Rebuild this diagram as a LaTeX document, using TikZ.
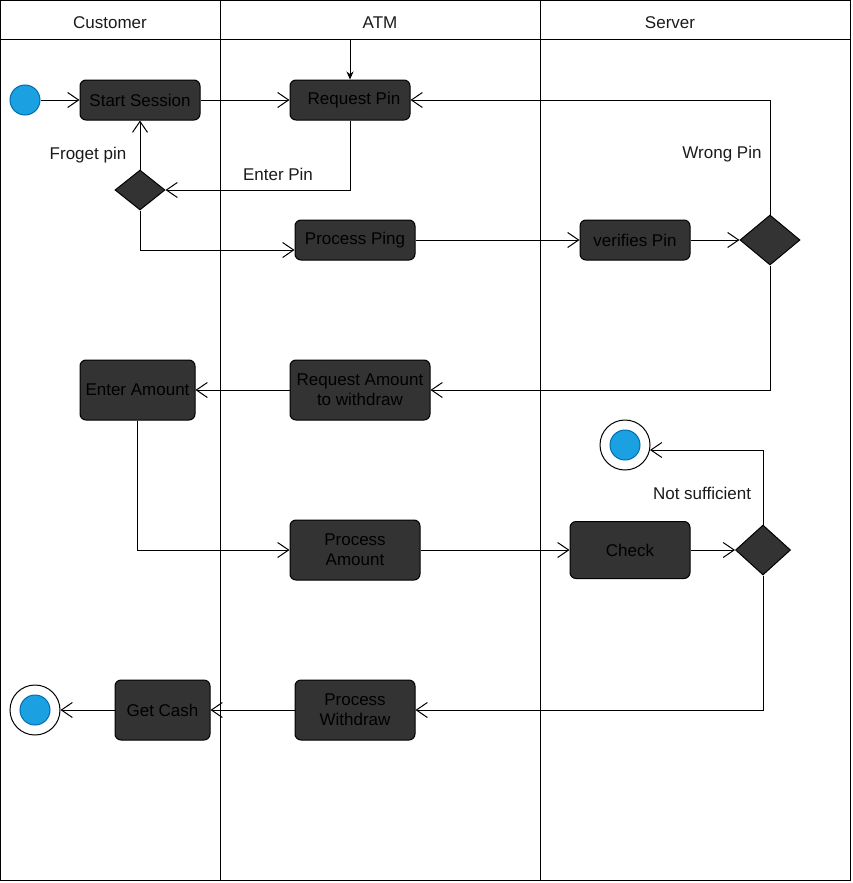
\documentclass[tikz,border=0pt]{standalone}
\usepackage{fontspec}
\setmainfont{Liberation Sans}
\usetikzlibrary{arrows.meta,shapes.geometric}
\definecolor{boxfill}{HTML}{333333}
\definecolor{lbltext}{HTML}{1A1A1A}
\definecolor{startblue}{HTML}{1BA1E2}
\definecolor{startedge}{HTML}{006EAF}
\begin{document}
\begin{tikzpicture}[x=1pt,y=-1pt,line width=1pt,
  every node/.style={font=\fontsize{17}{20}\selectfont},
  actbox/.style={draw=black,fill=boxfill,rounded corners=6pt,text=black,align=center,inner sep=0pt},
  decis/.style={draw=black,fill=boxfill,diamond,inner sep=0pt},
  lbl/.style={text=lbltext,inner sep=0pt},
  flow/.style={draw=black,-{Straight Barb[length=11pt,width=15pt,line width=1pt]}},
  solidarrow/.style={draw=black,-{Stealth[length=8pt,width=7pt]}}
]
\useasboundingbox (0,0) rectangle (852,883);
% swimlanes
\draw[black] (0.5,0.5) rectangle (850,880);
\draw[black] (0.5,40) -- (850,40);
\draw[black] (220,0.5) -- (220,880);
\draw[black] (540,0.5) -- (540,880);
\node[lbl] (hc) at (110,23) {Customer};
\node[lbl] (ha) at (380,23) {ATM};
\node[lbl] (hs) at (670,23) {Server};
\coordinate (atmtop) at (350,40);
% nodes
\node[circle,draw=startedge,fill=startblue,minimum size=30pt,inner sep=0pt] (init) at (25,100) {};
\node[actbox,minimum width=120pt,minimum height=40pt] (start) at (140,100) {Start Session};
\node[actbox,minimum width=120pt,minimum height=40pt] (reqpin) at (350,100) {\hspace*{8pt}Request Pin};
\node[decis,minimum width=50pt,minimum height=40pt] (d1) at (140,190) {};
\node[actbox,minimum width=120pt,minimum height=40pt] (ping) at (355,240) {Process Ping};
\node[actbox,minimum width=110pt,minimum height=40pt] (verify) at (635,240) {verifies Pin};
\node[decis,minimum width=60pt,minimum height=50pt] (d2) at (770,240) {};
\node[actbox,minimum width=115pt,minimum height=60pt] (enteramt) at (137.5,390) {Enter Amount};
\node[actbox,minimum width=140pt,minimum height=60pt] (reqamt) at (360,390) {Request Amount\\to withdraw};
\node[circle,draw=black,fill=white,minimum size=50pt,inner sep=0pt] (fin1) at (625,445) {};
\node[circle,draw=startedge,fill=startblue,minimum size=30pt,inner sep=0pt] (fin1i) at (625,445) {};
\node[actbox,minimum width=130pt,minimum height=60pt] (procamt) at (355,550) {Process\\Amount};
\node[actbox,minimum width=120pt,minimum height=57pt] (check) at (630,550) {Check};
\node[decis,minimum width=55pt,minimum height=50pt] (d3) at (763,550) {};
\node[actbox,minimum width=120pt,minimum height=60pt] (procwd) at (355,710) {Process\\Withdraw};
\node[actbox,minimum width=95pt,minimum height=60pt] (cash) at (162.5,710) {Get Cash};
\node[circle,draw=black,fill=white,minimum size=50pt,inner sep=0pt] (fin2) at (35,710) {};
\node[circle,draw=startedge,fill=startblue,minimum size=30pt,inner sep=0pt] (fin2i) at (35,710) {};
\coordinate (fin1hit) at (650,450);
% connectors
\draw[solidarrow] (atmtop) -- (reqpin.north);
\draw[flow] (init) -- (start);
\draw[flow] (start) -- (reqpin);
\draw[flow] (reqpin.south) |- (d1.east);
\node[lbl] (lenter) at (278,174) {Enter Pin};
\draw[flow] (d1.north) -- (start.south);
\node[lbl] (lforget) at (88,155) {Froget pin};
\draw[flow] (d1.south) |- ([yshift=-10pt]ping.west);
\draw[flow] (ping) -- (verify);
\draw[flow] (verify) -- (d2.west);
\draw[flow] (d2.north) |- (reqpin.east);
\node[lbl] (lwrong) at (722,154) {Wrong Pin};
\draw[flow] (d2.south) |- (reqamt.east);
\draw[flow] (reqamt) -- (enteramt);
\draw[flow] (enteramt.south) |- (procamt.west);
\draw[flow] (procamt) -- (check);
\draw[flow] (check) -- (d3.west);
\draw[flow] (d3.north) |- (fin1hit);
\node[lbl] (lnot) at (702,493) {Not sufficient};
\draw[flow] (d3.south) |- (procwd.east);
\draw[flow] (procwd) -- (cash);
\draw[flow] (cash) -- (fin2);
\end{tikzpicture}
\end{document}
